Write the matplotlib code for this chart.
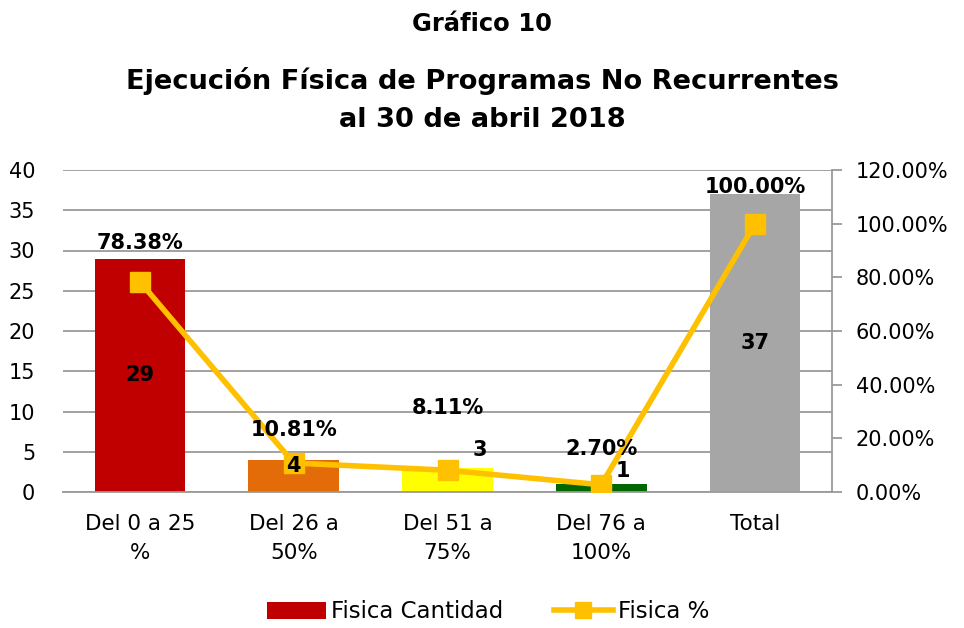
import matplotlib
matplotlib.use("Agg")
import matplotlib.pyplot as plt
from matplotlib.lines import Line2D
from matplotlib.patches import Patch

categories = ["Del 0 a 25\n%", "Del 26 a\n50%", "Del 51 a\n75%", "Del 76 a\n100%", "Total"]
cantidad = [29, 4, 3, 1, 37]
porcentaje = [0.7838, 0.1081, 0.0811, 0.0270, 1.0]
bar_colors = ["#C00000", "#E36C09", "#FFFF00", "#006600", "#A6A6A6"]
line_color = "#FFC000"

plt.rcParams['font.family'] = ['DejaVu Sans']
PX = 72 / 100.0  # points per pixel

fig = plt.figure(figsize=(9.64, 6.28), dpi=100)
ax = fig.add_axes([63/964, 136/628, (832-63)/964, (492-170)/628])
ax2 = ax.twinx()

x = list(range(len(categories)))
ax.bar(x, cantidad, width=0.59, color=bar_colors, zorder=2)
ax.set_xlim(-0.5, 4.5)
ax.set_ylim(0, 40)
ax.set_yticks(range(0, 41, 5))
ax.yaxis.grid(True, color="#9a9a9a", linewidth=1.3, zorder=0)
ax.set_axisbelow(True)
for s in ["top", "left", "right"]:
    ax.spines[s].set_visible(False)
ax.spines["bottom"].set_color("#9a9a9a")
ax.spines["bottom"].set_linewidth(1.3)
ax.tick_params(axis="y", length=0, labelsize=15, pad=20)
ax.tick_params(axis="x", length=0, labelsize=15.5, pad=16)
ax.set_xticks(x)
ax.set_xticklabels(categories, linespacing=1.55)

ax2.plot(x, porcentaje, color=line_color, linewidth=4, marker="s", markersize=14, zorder=3)
ax2.set_ylim(0, 1.2)
ax2.set_yticks([0, 0.2, 0.4, 0.6, 0.8, 1.0, 1.2])
ax2.set_yticklabels([f"{v*100:.2f}%" for v in [0, 0.2, 0.4, 0.6, 0.8, 1.0, 1.2]])
for s in ["top", "left", "bottom"]:
    ax2.spines[s].set_visible(False)
ax2.spines["right"].set_color("#9a9a9a")
ax2.spines["right"].set_linewidth(1.3)
ax2.tick_params(axis="y", length=7, width=1.3, color="#9a9a9a", labelsize=15, pad=10)

# bar value labels (pixel offsets relative to bar top), drawn on top of the line
bar_offsets = [("center", 0, 0), ("top", 0, -6), ("top", 32, 18), ("top", 22, 13), ("center", 0, 0)]
for i, v in enumerate(cantidad):
    mode, dx, dy = bar_offsets[i]
    if mode == "center":
        ax2.annotate(str(v), (i, v / 2), xycoords=ax.transData, ha="center", va="center",
                     fontsize=15, fontweight="bold", zorder=5)
    else:
        ax2.annotate(str(v), (i, v), xycoords=ax.transData, xytext=(dx * PX, dy * PX),
                     textcoords="offset points", ha="center", va="center",
                     fontsize=15, fontweight="bold", zorder=5)

# percentage labels (pixel offsets above markers)
pct_offsets = [39, 33, 62, 36, 37]
for i, p in enumerate(porcentaje):
    ax2.annotate(f"{p*100:.2f}%", (i, p), xytext=(0, pct_offsets[i] * PX),
                 textcoords="offset points", ha="center", va="center",
                 fontsize=15, fontweight="bold", zorder=5)

fig.text(0.5, 1 - 24/628, "Gráfico 10", ha="center", va="center", fontsize=17.5, fontweight="bold")
fig.text(0.5, 1 - 100/628, "Ejecución Física de Programas No Recurrentes\nal 30 de abril 2018",
         ha="center", va="center", fontsize=19.6, fontweight="bold", linespacing=1.6)

handles = [Patch(facecolor=bar_colors[0]),
           Line2D([0], [0], color=line_color, linewidth=4, marker="s", markersize=12)]
fig.legend(handles, ["Fisica Cantidad", "Fisica %"], loc="center", bbox_to_anchor=(488/964, 1 - 612/628),
           ncol=2, frameon=False, fontsize=16.5, handlelength=2.6, handletextpad=0.2, columnspacing=2.2)

fig.savefig("out.png", dpi=100)
